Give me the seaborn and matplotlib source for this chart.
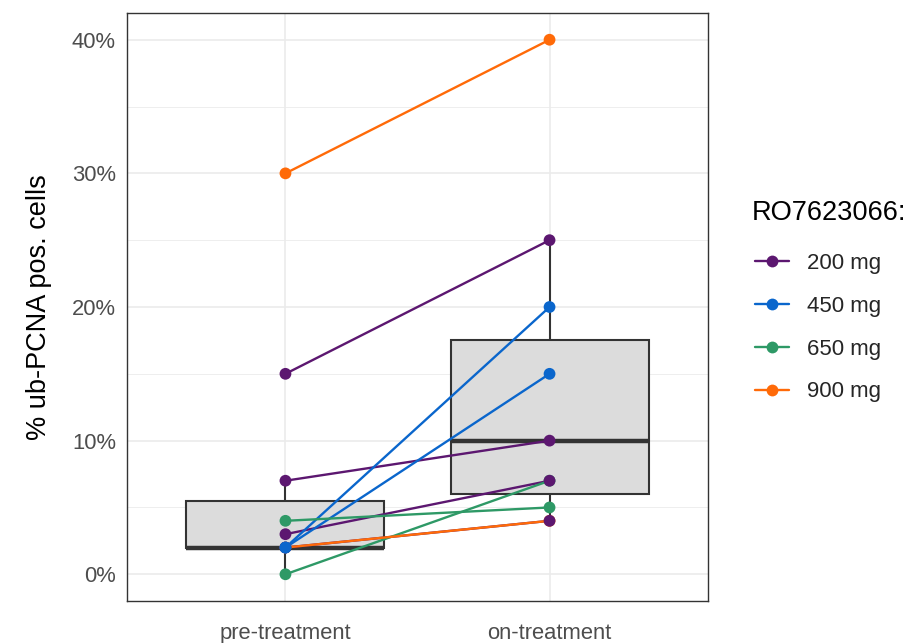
import matplotlib
matplotlib.use("Agg")
import matplotlib.pyplot as plt
from matplotlib.lines import Line2D
from matplotlib.ticker import FuncFormatter, MultipleLocator
import numpy as np
import pandas as pd
import seaborn as sns

# ---- data ----
timepoints = ["pre-treatment", "on-treatment"]
doses = ["200 mg", "450 mg", "650 mg", "900 mg"]
patient_dose = ["200 mg", "200 mg", "200 mg", "200 mg",
                "450 mg", "450 mg",
                "650 mg", "650 mg",
                "900 mg", "900 mg"]
pre_values = [15, 7, 3, 2, 2, 2, 4, 0, 30, 2]
on_values = [25, 10, 7, 4, 20, 15, 5, 7, 40, 4]
# one additional sample that enters the boxplots but has no line/point drawn
box_only_pre = [2]
box_only_on = [10]
colors = ["#5C1770", "#0A66CC", "#2E9966", "#FF6A08"]
y_ticks = [0, 10, 20, 30, 40]

palette = dict(zip(doses, colors))

# long table for lines / points
rows = []
for i, (d, a, b) in enumerate(zip(patient_dose, pre_values, on_values)):
    rows.append(dict(patient=i, dose=d, time=timepoints[0], xpos=0, value=a))
    rows.append(dict(patient=i, dose=d, time=timepoints[1], xpos=1, value=b))
long = pd.DataFrame(rows)

box_df = pd.DataFrame({
    "time": [timepoints[0]] * (len(pre_values) + len(box_only_pre))
            + [timepoints[1]] * (len(on_values) + len(box_only_on)),
    "value": pre_values + box_only_pre + on_values + box_only_on,
})

sns.set_theme(style="white")
plt.rcParams["font.family"] = ["Liberation Sans", "DejaVu Sans"]

fig = plt.figure(figsize=(9.09, 6.43), dpi=100)
ax = fig.add_axes([127 / 909, 1 - 601 / 643, (708 - 127) / 909, (601 - 13) / 643])

sns.boxplot(data=box_df, x="time", y="value", order=timepoints, ax=ax,
            width=0.75, color="#DCDCDC", linecolor="#333333", linewidth=1.5,
            showcaps=False, showfliers=False, whis=1.5,
            medianprops=dict(linewidth=3.2, color="#333333"),
            boxprops=dict(facecolor="#DCDCDC"))

sns.lineplot(data=long, x="xpos", y="value", hue="dose", hue_order=doses,
             units="patient", estimator=None, palette=palette, linewidth=1.7,
             legend=False, sort=False, ax=ax, zorder=3)

point_order = ["900 mg", "650 mg", "200 mg", "450 mg"]
pts = pd.concat([long[long["dose"] == d] for d in point_order])
sns.scatterplot(data=pts, x="xpos", y="value", hue="dose", palette=palette,
                s=72, edgecolor="none", linewidth=0, legend=False, ax=ax, zorder=4)

ax.set_xlim(-0.6, 1.6)
ax.set_ylim(-2, 42)
ax.set_xticks([0, 1])
ax.set_xticklabels(timepoints)
ax.set_yticks(y_ticks)
ax.yaxis.set_minor_locator(MultipleLocator(5))
ax.yaxis.set_major_formatter(FuncFormatter(lambda v, p: f"{v:.0f}%"))
ax.set_axisbelow(True)
ax.grid(True, which="major", color="#EBEBEB", linewidth=1.2)
ax.grid(True, which="minor", axis="y", color="#EBEBEB", linewidth=0.6)
ax.tick_params(axis="both", which="major", length=4, width=1, color="#333333",
               labelsize=15.8, labelcolor="#4D4D4D", pad=4)
ax.tick_params(axis="both", which="minor", length=0)
ax.tick_params(axis="x", pad=12)
for s in ax.spines.values():
    s.set_color("#333333")
    s.set_linewidth(1.0)
ax.set_xlabel("")
ax.set_ylabel("% ub-PCNA pos. cells", fontsize=19.5, color="black", labelpad=14)

handles = [Line2D([0], [0], color=palette[d], lw=1.7, marker="o", markersize=8.5,
                  markeredgewidth=0) for d in doses]
fig.text(752 / 909, 1 - 213 / 643, "RO7623066:", fontsize=19.6, color="black",
         ha="left", va="center")
leg = fig.legend(handles, doses, loc="upper left",
                 bbox_to_anchor=(755 / 909, 1 - 253 / 643), frameon=False,
                 fontsize=16, handlelength=1.55,
                 handletextpad=0.78, labelspacing=0.98, borderpad=0,
                 borderaxespad=0)

fig.savefig("out.png", dpi=100)
